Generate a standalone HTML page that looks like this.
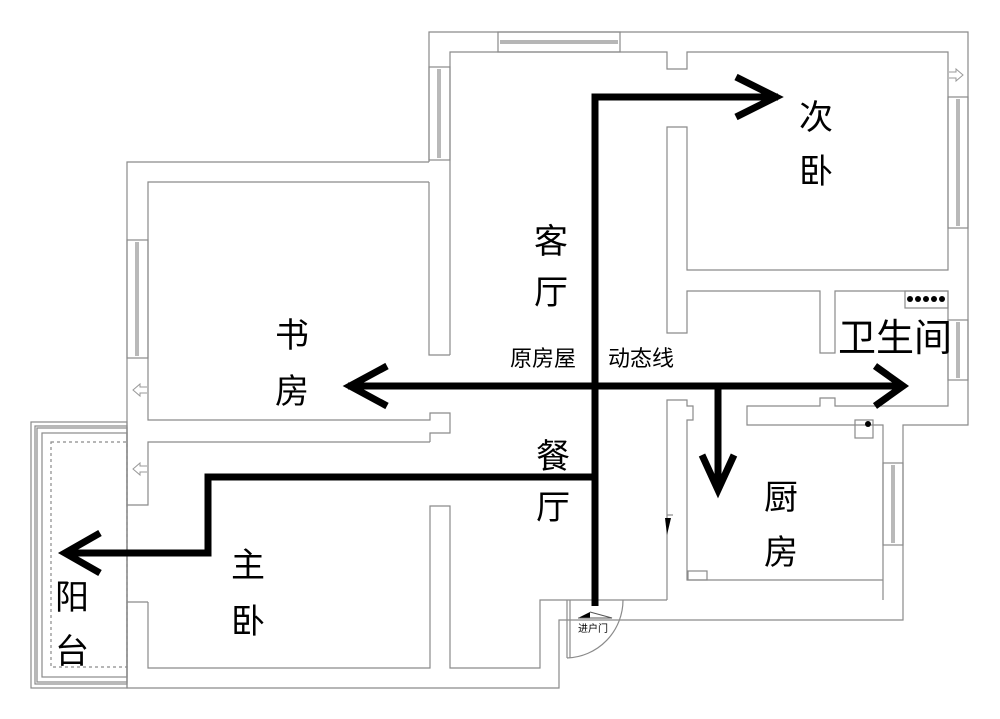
<!DOCTYPE html>
<html><head><meta charset="utf-8"><style>
html,body{margin:0;padding:0;background:#fff;}
svg{display:block;}
text{font-family:"Liberation Sans","Noto Sans CJK SC",sans-serif;fill:#000;}
</style></head><body>
<svg width="1000" height="719" viewBox="0 0 1000 719" xmlns="http://www.w3.org/2000/svg">
<g fill="none" stroke="#8a8a8a" stroke-width="1.2">
<polyline points="429,162 429,32 968,32 968,425 903,425 903,620 559,620 559,688 127,688 127,602"/>
<polyline points="429,162 127,162 127,505 148,505 148,442 430,442"/>
<polyline points="450,355 450,52 667,52 667,69 687,69 687,52 948,52 948,270 687,270 687,127 667,127 667,333 687,333 687,291 820,291 820,353 835,353 835,291 948,291 948,406 835,406 835,398 820,398 820,406 747,406 747,425 883,425 883,600"/>
<polyline points="429,182 429,355 450,355"/>
<polyline points="429,182 148,182 148,420 430,420 430,413 450,413 450,433 430,433 430,442"/>
<polyline points="148,602 148,668 430,668 430,506 450,506 450,668 540,668 540,600 667,600"/>
<polyline points="127,602 148,602"/>
<polyline points="667,600 667,400 687,400 687,406 693,406 693,420 687,420 687,580 883,580"/>
<line x1="667" y1="515" x2="673" y2="515"/>
<rect x="498" y="32" width="122" height="20"/>
<line x1="500" y1="41" x2="618" y2="41"/><line x1="500" y1="43" x2="618" y2="43"/>
<rect x="429" y="67" width="21" height="93"/>
<line x1="438" y1="69" x2="438" y2="158"/><line x1="440" y1="69" x2="440" y2="158"/>
<rect x="948" y="97" width="20" height="131"/>
<line x1="957" y1="99" x2="957" y2="226"/><line x1="959" y1="99" x2="959" y2="226"/>
<rect x="948" y="320" width="20" height="60"/>
<line x1="957" y1="322" x2="957" y2="378"/><line x1="959" y1="322" x2="959" y2="378"/>
<rect x="883" y="463" width="20" height="82"/>
<line x1="892" y1="465" x2="892" y2="543"/><line x1="894" y1="465" x2="894" y2="543"/>
<rect x="127" y="240" width="21" height="118"/>
<line x1="136" y1="242" x2="136" y2="356"/><line x1="138" y1="242" x2="138" y2="356"/>
<rect x="905" y="291" width="43" height="17"/>
<rect x="855" y="420" width="18" height="18"/>
<rect x="688" y="571" width="19" height="9"/>
<rect x="31" y="422" width="96" height="266"/>
<rect x="35" y="426" width="92" height="258"/>
<rect x="37" y="428" width="90" height="254"/>
<rect x="42" y="433" width="85" height="244"/>
<rect x="51" y="442" width="76" height="225" stroke-dasharray="3,3"/>
<line x1="567" y1="600" x2="567" y2="658"/><line x1="570" y1="600" x2="570" y2="658"/>
<path d="M567,658 A58,58 0 0 0 623,600"/>
</g>
<g fill="none" stroke="#999" stroke-width="1">
<path d="M147,387 H140 V384 L133,390 L140,396 V393 H147"/>
<path d="M147,466 H140 V463 L133,469 L140,475 V472 H147"/>
<path d="M949,72 H956 V69 L963,75 L956,81 V78 H949"/>
</g>
<g fill="#000">
<circle cx="910" cy="299" r="3"/><circle cx="918" cy="299" r="3"/><circle cx="926" cy="299" r="3"/><circle cx="934" cy="299" r="3"/><circle cx="942" cy="299" r="3"/>
<circle cx="868" cy="424" r="3"/>
<polygon points="578,618 590,612 590,618"/>
<polygon points="665,518 671,518 667,535"/>
</g>
<polyline points="590,612 612,618 578,618" fill="none" stroke="#555" stroke-width="1"/>
<text x="593" y="632" font-size="10" text-anchor="middle" fill="#444">进户门</text>
<g fill="none" stroke="#000" stroke-width="7" stroke-linecap="butt" stroke-linejoin="miter">
<polyline points="595,606 595,97 778,97"/>
<polyline points="736,77 776,97 736,117"/>
<line x1="348" y1="386" x2="903" y2="386"/>
<polyline points="387,366 350,386 387,406"/>
<polyline points="875,366 903,386 875,406"/>
<polyline points="718,386 718,490"/>
<polyline points="702,455 718,490 734,455"/>
<polyline points="595,477 208,477 208,553 64,553"/>
<polyline points="100,533 65,553 100,573"/>
</g>
<g font-size="34" text-anchor="middle">
<text x="816" y="129">次</text><text x="816" y="183">卧</text>
<text x="551" y="253">客</text><text x="551" y="304">厅</text>
<text x="292" y="347">书</text><text x="292" y="403">房</text>
<text x="553" y="468">餐</text><text x="553" y="519">厅</text>
<text x="781" y="509">厨</text><text x="781" y="564">房</text>
<text x="248" y="577">主</text><text x="248" y="633">卧</text>
<text x="72" y="609">阳</text><text x="72" y="663">台</text>
</g>
<text x="895" y="351" font-size="38" text-anchor="middle">卫生间</text>
<text x="543" y="366" font-size="22" text-anchor="middle">原房屋</text>
<text x="641" y="366" font-size="22" text-anchor="middle">动态线</text>
</svg>
</body></html>
